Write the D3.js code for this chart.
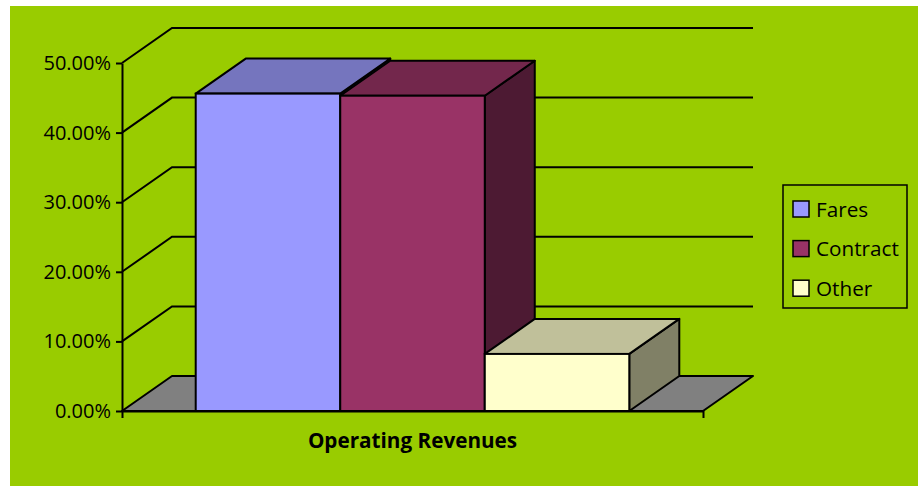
<!DOCTYPE html>
<html>
<head>
<meta charset="utf-8">
<script src="https://cdn.jsdelivr.net/npm/d3@7"></script>
<style>
  body { margin: 0; background: #fff; }
  text { font-family: "Open Sans", sans-serif; fill: #000; }
</style>
</head>
<body>
<div id="chart"></div>
<script>
// DATA
var categories = ["Operating Revenues"];
var series = ["Fares", "Contract", "Other"];
var values = [0.456, 0.453, 0.082];
var tickValues = [0, 0.1, 0.2, 0.3, 0.4, 0.5];

// colours: front, top, side
var frontColors = ["#9999FF", "#993366", "#FFFFCC"];
var topColors = ["#7575BE", "#73274C", "#C0C09A"];
var sideColors = ["#5C5C99", "#4D1A33", "#808066"];

var width = 921;
var height = 486;
var depthX = 50, depthY = -35;

var svg = d3.select("#chart")
  .append("svg")
  .attr("width", width)
  .attr("height", height);

// background
svg.append("rect")
  .attr("x", 10).attr("y", 6)
  .attr("width", 908).attr("height", 480)
  .attr("fill", "#99CC00");

var xScale = d3.scaleBand()
  .domain(categories)
  .range([122, 703]);

var sScale = d3.scaleBand()
  .domain(series)
  .range([0, xScale.bandwidth()])
  .paddingInner(0)
  .paddingOuter(0.51);

var yScale = d3.scaleLinear()
  .domain([0, 0.5])
  .range([411, 63]);

var x0 = xScale.range()[0], x1 = xScale.range()[1];
var y0 = yScale(0);

// floor
svg.append("polygon")
  .attr("points", [
    [x0, y0], [x0 + depthX, y0 + depthY], [x1 + depthX, y0 + depthY], [x1, y0]
  ].join(" "))
  .attr("fill", "#808080")
  .attr("stroke", "#000")
  .attr("stroke-width", 2)
  .attr("stroke-linejoin", "round");

// gridlines on the side and back wall
svg.selectAll("path.grid")
  .data(tickValues.filter(function(d) { return d > 0; }))
  .enter()
  .append("path")
  .attr("class", "grid")
  .attr("d", function(d) {
    var y = yScale(d);
    return "M" + x0 + "," + y + "L" + (x0 + depthX) + "," + (y + depthY) + "H" + (x1 + depthX);
  })
  .attr("fill", "none")
  .attr("stroke", "#000")
  .attr("stroke-width", 2);

// bars
var bars = svg.selectAll("g.bar")
  .data(values)
  .enter()
  .append("g")
  .attr("class", "bar");

function barX(i) { return xScale(categories[0]) + sScale(series[i]); }

// side face
bars.append("polygon")
  .attr("points", function(d, i) {
    var xr = barX(i) + sScale.bandwidth(), yt = yScale(d);
    return [[xr, yt], [xr + depthX, yt + depthY], [xr + depthX, y0 + depthY], [xr, y0]].join(" ");
  })
  .attr("fill", function(d, i) { return sideColors[i]; })
  .attr("stroke", "#000").attr("stroke-width", 2).attr("stroke-linejoin", "round");

// top face
bars.append("polygon")
  .attr("points", function(d, i) {
    var xl = barX(i), xr = xl + sScale.bandwidth(), yt = yScale(d);
    return [[xl, yt], [xl + depthX, yt + depthY], [xr + depthX, yt + depthY], [xr, yt]].join(" ");
  })
  .attr("fill", function(d, i) { return topColors[i]; })
  .attr("stroke", "#000").attr("stroke-width", 2).attr("stroke-linejoin", "round");

// front face
bars.append("rect")
  .attr("x", function(d, i) { return barX(i); })
  .attr("y", function(d) { return yScale(d); })
  .attr("width", sScale.bandwidth())
  .attr("height", function(d) { return y0 - yScale(d); })
  .attr("fill", function(d, i) { return frontColors[i]; })
  .attr("stroke", "#000").attr("stroke-width", 2);

// Y axis
var yAxis = d3.axisLeft(yScale)
  .tickValues(tickValues)
  .tickFormat(d3.format(".2%"))
  .tickSize(6)
  .tickSizeOuter(0)
  .tickPadding(5);

var gy = svg.append("g")
  .attr("transform", "translate(" + x0 + ",0)")
  .call(yAxis);
gy.select(".domain").attr("stroke", "#000").attr("stroke-width", 2);
gy.selectAll(".tick line").attr("stroke", "#000").attr("stroke-width", 2);
gy.selectAll(".tick text")
  .attr("font-family", "Open Sans")
  .attr("font-size", "20px")
  .attr("fill", "#000");

// X axis
var xAxis = d3.axisBottom(xScale)
  .tickValues([])
  .tickSizeOuter(7);
var gx = svg.append("g")
  .attr("transform", "translate(0," + y0 + ")")
  .call(xAxis);
gx.select(".domain").attr("stroke", "#000").attr("stroke-width", 2).attr("fill", "none");

svg.append("text")
  .attr("x", (x0 + x1) / 2)
  .attr("y", 448)
  .attr("text-anchor", "middle")
  .attr("font-size", "20.7px")
  .attr("font-weight", "bold")
  .text(categories[0]);

// legend
var legend = svg.append("g");
legend.append("rect")
  .attr("x", 783).attr("y", 185)
  .attr("width", 124).attr("height", 123)
  .attr("fill", "none")
  .attr("stroke", "#000")
  .attr("stroke-width", 1.5);

var items = legend.selectAll("g.item")
  .data(series)
  .enter()
  .append("g")
  .attr("class", "item")
  .attr("transform", function(d, i) { return "translate(793," + (209 + i * 39.6) + ")"; });

items.append("rect")
  .attr("x", 0).attr("y", -8)
  .attr("width", 16).attr("height", 16)
  .attr("fill", function(d, i) { return frontColors[i]; })
  .attr("stroke", "#000")
  .attr("stroke-width", 1.5);

items.append("text")
  .attr("x", 23)
  .attr("y", 7.5)
  .attr("font-size", "20.7px")
  .text(function(d) { return d; });
</script>
</body>
</html>
